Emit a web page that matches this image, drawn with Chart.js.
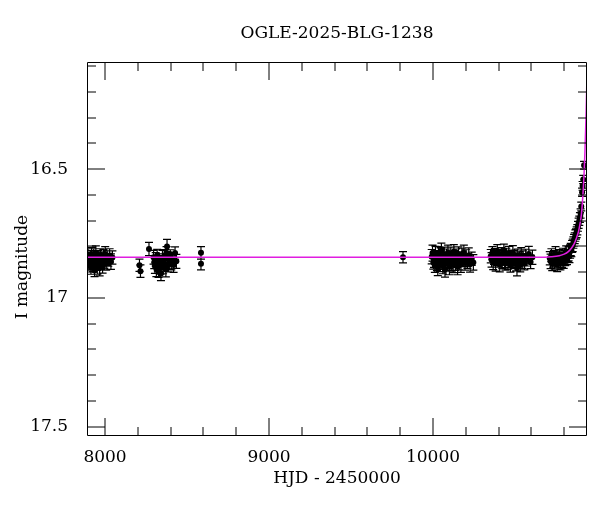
<!DOCTYPE html>
<html><head><meta charset="utf-8">
<script src="https://cdn.jsdelivr.net/npm/chart.js@4.4.1/dist/chart.umd.min.js"></script>
<style>html,body{margin:0;padding:0;background:#fff}#wrap{width:600px;height:512px;position:relative}</style>
</head><body><div id="wrap"><canvas id="c"></canvas></div>
<script>
const titleText = 'OGLE-2025-BLG-1238';
const xTitle = 'HJD - 2450000';
const yTitle = 'I magnitude';
const xRange = [7890, 10939];
const yRange = [16.084, 17.536];
const xMajorTicks = [8000, 9000, 10000];
const xMinorTicks = [8200, 8400, 8600, 8800, 9200, 9400, 9600, 9800, 10200, 10400, 10600, 10800];
const yMajorTicks = [16.5, 17, 17.5];
const yMinorTicks = [16.1, 16.2, 16.3, 16.4, 16.6, 16.7, 16.8, 16.9, 17.1, 17.2, 17.3, 17.4];

// season 1
const hjd1 = [7896,7901,7905,7910,7914,7918,7922,7927,7931,7936,7940,7944,7949,7953,7958,7962,7967,7971,7976,7980,7985,7990,7995,8001,8007,8013,8020,8028,8036,8045];
const mag1 = [16.835,16.852,16.868,16.846,16.881,16.829,16.858,16.872,16.84,16.893,16.85,16.826,16.865,16.878,16.842,16.856,16.885,16.833,16.861,16.848,16.874,16.838,16.857,16.83,16.866,16.845,16.852,16.836,16.859,16.843];
const err1 = [0.026,0.028,0.024,0.03,0.027,0.025,0.029,0.026,0.031,0.024,0.027,0.028,0.025,0.03,0.026,0.027,0.029,0.024,0.028,0.026,0.03,0.025,0.027,0.029,0.026,0.028,0.025,0.027,0.03,0.026];
// isolated points
const hjdIso = [8210, 8216, 8268, 8585, 8585, 9817];
const magIso = [16.873, 16.896, 16.81, 16.825, 16.867, 16.842];
const errIso = [0.024, 0.024, 0.026, 0.024, 0.024, 0.022];
// season 3
const hjd3 = [8296,8300,8304,8309,8313,8318,8322,8326,8330,8335,8339,8341,8345,8350,8354,8358,8362,8367,8371,8375,8378,8382,8387,8392,8398,8404,8411,8418,8427,8435];
const mag3 = [16.842,16.861,16.876,16.85,16.887,16.835,16.868,16.894,16.856,16.874,16.883,16.905,16.862,16.845,16.879,16.853,16.868,16.838,16.889,16.826,16.80,16.846,16.871,16.857,16.838,16.864,16.85,16.872,16.826,16.858];
const err3 = [0.027,0.025,0.029,0.026,0.03,0.024,0.028,0.026,0.027,0.029,0.025,0.028,0.026,0.03,0.027,0.024,0.028,0.026,0.029,0.025,0.027,0.026,0.028,0.03,0.025,0.027,0.026,0.029,0.024,0.027];
// season 4
const hjd4 = [9992,9997,10002,10006,10011,10015,10020,10024,10029,10033,10038,10042,10047,10051,10056,10060,10065,10069,10073,10078,10082,10087,10091,10096,10100,10105,10109,10114,10118,10123,10127,10132,10136,10141,10145,10150,10155,10160,10165,10170,10176,10182,10188,10195,10202,10210,10218,10226,10236,10246];
const mag4 = [16.84,16.826,16.862,16.851,16.874,16.833,16.845,16.868,16.882,16.829,16.857,16.871,16.838,16.816,16.849,16.876,16.861,16.834,16.892,16.853,16.842,16.867,16.825,16.858,16.879,16.844,16.832,16.863,16.85,16.872,16.821,16.847,16.866,16.839,16.855,16.878,16.83,16.861,16.848,16.87,16.836,16.853,16.825,16.864,16.845,16.858,16.835,16.869,16.848,16.862];
const err4 = [0.028,0.031,0.026,0.03,0.027,0.033,0.029,0.026,0.031,0.028,0.03,0.027,0.032,0.029,0.026,0.03,0.028,0.031,0.027,0.029,0.032,0.026,0.03,0.028,0.031,0.027,0.029,0.033,0.026,0.03,0.028,0.031,0.027,0.029,0.026,0.032,0.028,0.03,0.027,0.031,0.029,0.026,0.03,0.028,0.032,0.027,0.029,0.031,0.026,0.03];
// season 5
const hjd5 = [10352,10357,10362,10367,10372,10377,10382,10387,10392,10397,10402,10407,10412,10417,10422,10427,10432,10437,10442,10447,10452,10457,10462,10467,10472,10477,10482,10487,10492,10497,10502,10507,10512,10517,10522,10527,10532,10538,10544,10550,10557,10565,10574,10584,10595,10606];
const mag5 = [16.838,16.852,16.826,16.861,16.843,16.832,16.866,16.848,16.821,16.855,16.838,16.87,16.847,16.829,16.858,16.842,16.816,16.853,16.866,16.835,16.849,16.861,16.83,16.845,16.872,16.839,16.854,16.826,16.86,16.843,16.851,16.868,16.884,16.836,16.857,16.846,16.872,16.834,16.859,16.845,16.866,16.838,16.852,16.829,16.86,16.842];
const err5 = [0.026,0.028,0.025,0.029,0.027,0.024,0.03,0.026,0.028,0.025,0.027,0.029,0.026,0.024,0.028,0.027,0.025,0.029,0.026,0.028,0.024,0.027,0.03,0.026,0.028,0.025,0.027,0.029,0.026,0.028,0.024,0.027,0.03,0.026,0.028,0.025,0.027,0.029,0.026,0.028,0.025,0.027,0.024,0.029,0.026,0.028];
// season 6 (rise)
const hjd6 = [10712,10717,10722,10727,10732,10737,10742,10747,10752,10757,10762,10767,10772,10777,10782,10787,10792,10797,10802,10807,10812,10817,10822,10827,10832,10836,10840,10844,10848,10852,10856,10860,10864,10868,10872,10876,10880,10884,10888,10892,10896,10900,10904,10909,10912,10916,10921];
const mag6 = [16.846,16.858,16.834,16.867,16.851,16.84,16.862,16.829,16.855,16.871,16.843,16.858,16.836,16.864,16.848,16.853,16.833,16.861,16.842,16.85,16.826,16.845,16.835,16.829,16.838,16.82,16.812,16.815,16.80,16.796,16.785,16.776,16.768,16.758,16.752,16.745,16.735,16.722,16.71,16.70,16.688,16.672,16.645,16.59,16.565,16.54,16.485];
const err6 = [0.026,0.028,0.025,0.027,0.029,0.024,0.026,0.028,0.025,0.027,0.026,0.029,0.024,0.027,0.025,0.028,0.026,0.024,0.027,0.025,0.028,0.026,0.024,0.027,0.025,0.026,0.024,0.025,0.023,0.024,0.022,0.023,0.021,0.022,0.02,0.021,0.02,0.019,0.02,0.018,0.019,0.018,0.017,0.016,0.017,0.016,0.015];
// model curve
const modelHjd = [7890, 10650, 10720, 10770, 10800, 10825, 10845, 10862, 10876, 10888, 10897, 10905, 10911, 10916, 10921, 10926, 10930, 10934, 10937, 10939];
const modelMag = [16.842, 16.842, 16.840, 16.836, 16.830, 16.82, 16.806, 16.788, 16.765, 16.74, 16.71, 16.675, 16.63, 16.58, 16.52, 16.44, 16.36, 16.27, 16.19, 16.12];

const obsHjd = [].concat(hjd1, hjdIso, hjd3, hjd4, hjd5, hjd6);
const obsMag = [].concat(mag1, magIso, mag3, mag4, mag5, mag6);
const obsErr = [].concat(err1, errIso, err3, err4, err5, err6);

const FONT = 'DejaVu Serif';
const FS = 17;

const errorBars = {
  id: 'errorBars',
  beforeDatasetsDraw(chart) {
    const {ctx, chartArea: a, scales: {x, y}} = chart;
    ctx.save();
    ctx.beginPath(); ctx.rect(a.left, a.top, a.right - a.left, a.bottom - a.top); ctx.clip();
    ctx.strokeStyle = '#000'; ctx.lineWidth = 1.2;
    ctx.beginPath();
    obsHjd.forEach((h, i) => {
      const px = x.getPixelForValue(h);
      const y1 = y.getPixelForValue(obsMag[i] - obsErr[i]);
      const y2 = y.getPixelForValue(obsMag[i] + obsErr[i]);
      ctx.moveTo(px, y1); ctx.lineTo(px, y2);
      ctx.moveTo(px - 4, y1); ctx.lineTo(px + 4, y1);
      ctx.moveTo(px - 4, y2); ctx.lineTo(px + 4, y2);
    });
    ctx.stroke();
    ctx.restore();
  }
};

const frame = {
  id: 'frame',
  afterDraw(chart) {
    const {ctx, chartArea: a, scales: {x, y}} = chart;
    ctx.save();
    ctx.strokeStyle = '#000'; ctx.lineWidth = 1;
    ctx.beginPath();
    const L = Math.round(a.left), R = Math.round(a.right), T = Math.round(a.top), B = Math.round(a.bottom);
    ctx.rect(L + 0.5, T + 0.5, R - L - 1, B - T - 1);
    ctx.stroke();
    ctx.beginPath();
    const vt = (vals, len) => vals.forEach(v => {
      const p = Math.round(x.getPixelForValue(v));
      ctx.moveTo(p, B); ctx.lineTo(p, B - len);
      ctx.moveTo(p, T); ctx.lineTo(p, T + len);
    });
    const ht = (vals, len) => vals.forEach(v => {
      const p = Math.round(y.getPixelForValue(v));
      ctx.moveTo(L, p); ctx.lineTo(L + len, p);
      ctx.moveTo(R, p); ctx.lineTo(R - len, p);
    });
    vt(xMajorTicks, 18); vt(xMinorTicks, 9);
    ht(yMajorTicks, 18); ht(yMinorTicks, 9);
    ctx.stroke();
    // y axis title
    ctx.fillStyle = '#000';
    ctx.font = FS + 'px "' + FONT + '"';
    ctx.textAlign = 'center'; ctx.textBaseline = 'middle';
    ctx.translate(23, 267); ctx.rotate(-Math.PI / 2);
    ctx.fillText(yTitle, 0, 0);
    ctx.restore();
  }
};

new Chart(document.getElementById('c'), {
  type: 'scatter',
  data: {
    datasets: [
      {
        label: 'model',
        data: modelHjd.map((h, i) => ({x: h, y: modelMag[i]})),
        showLine: true, borderColor: '#e01de0', borderWidth: 1.5,
        pointRadius: 0, cubicInterpolationMode: 'monotone', fill: false
      },
      {
        label: 'OGLE',
        data: obsHjd.map((h, i) => ({x: h, y: obsMag[i]})),
        pointRadius: 3, backgroundColor: '#000', borderWidth: 0, pointHoverRadius: 3
      }
    ]
  },
  options: {
    responsive: true, maintainAspectRatio: false, animation: false, devicePixelRatio: 1,
    events: [],
    layout: {padding: {left: 0, right: 13, top: 0, bottom: 0}},
    plugins: {
      legend: {display: false},
      tooltip: {enabled: false},
      title: {
        display: true, text: titleText, color: '#000', fullSize: false,
        font: {family: FONT, size: FS, weight: 'normal'},
        padding: {top: 23, bottom: 18.6}
      }
    },
    scales: {
      x: {
        type: 'linear', min: xRange[0], max: xRange[1],
        afterBuildTicks: s => { s.ticks = xMajorTicks.map(v => ({value: v})); },
        afterFit: s => { s.height = 76; },
        grid: {display: false, drawTicks: false},
        border: {display: false},
        ticks: {color: '#000', padding: 11, maxRotation: 0, font: {family: FONT, size: FS}, callback: v => String(v)},
        title: {display: true, text: xTitle, color: '#000', font: {family: FONT, size: FS}, padding: {top: 0, bottom: 23}}
      },
      y: {
        type: 'linear', reverse: true, min: yRange[0], max: yRange[1],
        afterBuildTicks: s => { s.ticks = yMajorTicks.map(v => ({value: v})); },
        afterFit: s => { s.width = 87; },
        grid: {display: false, drawTicks: false},
        border: {display: false},
        ticks: {color: '#000', padding: 19, font: {family: FONT, size: FS}, callback: v => String(v)}
      }
    }
  },
  plugins: [errorBars, frame]
});
</script>
</body></html>
